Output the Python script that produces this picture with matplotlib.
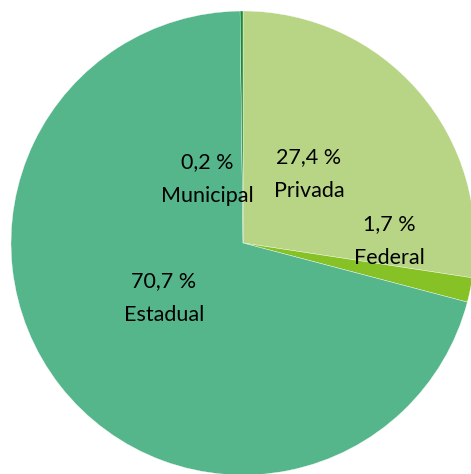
import matplotlib.pyplot as plt

categories = ["Privada", "Federal", "Estadual", "Municipal"]
shares = [27.4, 1.7, 70.7, 0.2]
colors = ["#b8d585", "#86c126", "#55b68c", "#178a3c"]

# label centres in pixels (x, y from top) for each category
label_px = [(309, 174), (389, 241), (164, 298), (207, 179)]

W, H = 471, 474
cx, cy, r = 243, 243, 232

fig = plt.figure(figsize=(W / 100, H / 100), dpi=100)
ax = fig.add_axes([0, 0, 1, 1])

ax.pie(shares, colors=colors, startangle=90, counterclock=False,
       radius=1, wedgeprops=dict(edgecolor="white", linewidth=0.25))

for name, val, (px, py) in zip(categories, shares, label_px):
    x = (px - cx) / r
    y = (cy - py) / r
    txt = f"{val:.1f} %".replace(".", ",") + "\n" + name
    ax.text(x, y, txt, ha="center", va="center", fontsize=15.5,
            family="Lato", linespacing=1.85, color="black")

ax.set_xlim(-cx / r, (W - cx) / r)
ax.set_ylim(-(H - cy) / r, cy / r)
ax.set_aspect("auto")
ax.axis("off")

fig.savefig("out.png", dpi=100)
